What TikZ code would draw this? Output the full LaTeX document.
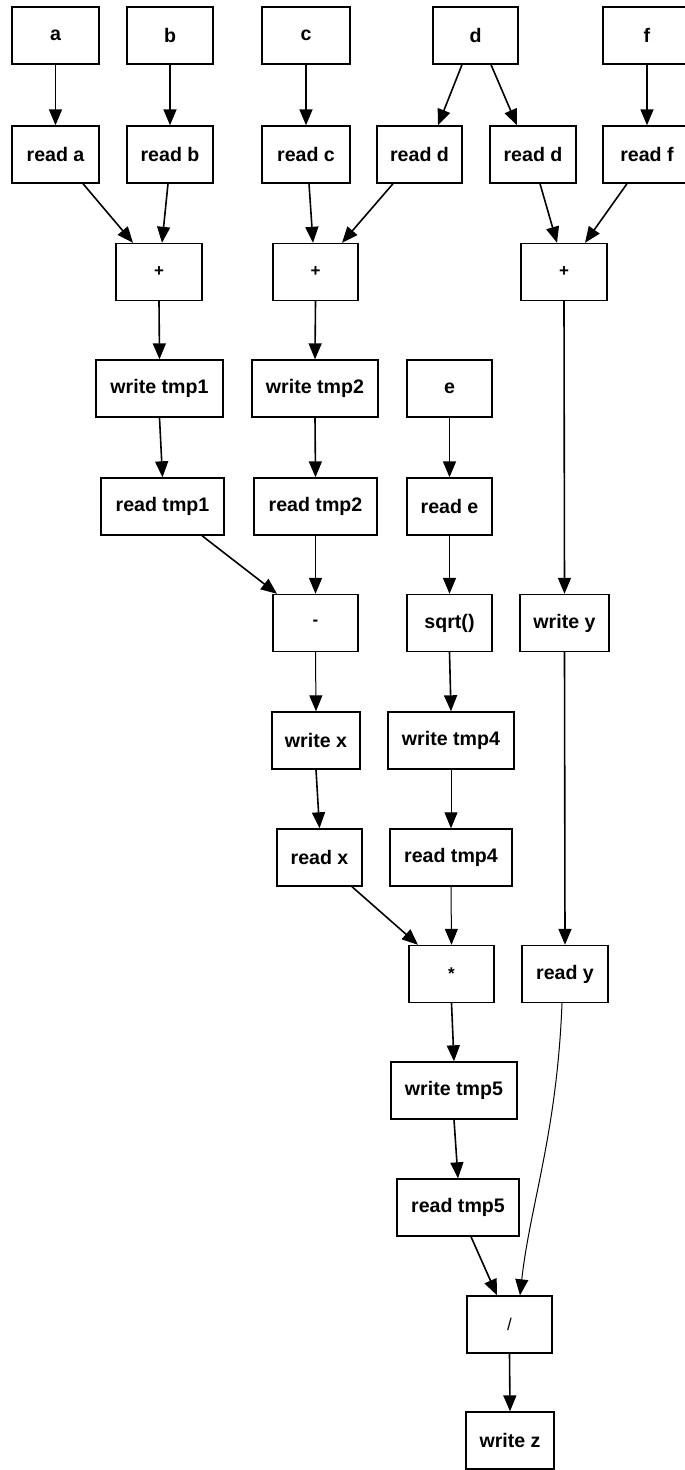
\documentclass[tikz,border=0pt]{standalone}
\usepackage{fontspec}
\setmainfont{Liberation Sans}
\usetikzlibrary{arrows.meta}
\begin{document}
\begin{tikzpicture}[x=1pt,y=-1pt,
  box/.style={draw=black, line width=1.4pt, rectangle, inner sep=0pt,
    minimum height=57pt, font=\fontsize{19.6}{22}\selectfont\bfseries},
  op/.style={box, font=\fontsize{17}{20}\selectfont\bfseries},
  edge/.style={draw=black, line width=1.6pt,
    -{Triangle[length=16pt,width=13pt]}},
  thinedge/.style={edge, line width=1pt}]
\useasboundingbox (0,0) rectangle (685,1470);
\clip (0,0) rectangle (685,1470);

% inputs
\node[box, minimum width=87pt] (a) at (55.5,35.5) {a};
\node[box, minimum width=86pt] (b) at (170,35.5) {b};
\node[box, minimum width=88pt] (c) at (306,35.5) {c};
\node[box, minimum width=85pt] (d) at (475.5,35.5) {d};
\node[box, minimum width=88pt] (f) at (647,35.5) {f};

% reads
\node[box, minimum width=87pt] (ra) at (55.5,154.5) {read a};
\node[box, minimum width=86pt] (rb) at (170,154.5) {read b};
\node[box, minimum width=88pt] (rc) at (306,154.5) {read c};
\node[box, minimum width=85pt] (rd1) at (419.5,154.5) {read d};
\node[box, minimum width=86pt] (rd2) at (533,154.5) {read d};
\node[box, minimum width=88pt] (rf) at (647,154.5) {read f};

% additions
\node[op, minimum width=86pt] (p1) at (159,272) {+};
\node[op, minimum width=85pt] (p2) at (315.5,272) {+};
\node[op, minimum width=86pt] (p3) at (564,272) {+};

\node[box, minimum width=127pt] (wt1) at (159.5,388.5) {write tmp1};
\node[box, minimum width=126pt] (wt2) at (315,388.5) {write tmp2};
\node[box, minimum width=85pt] (e) at (449.5,388.5) {e};

\node[box, minimum width=123pt] (rt1) at (162.5,506.5) {read tmp1};
\node[box, minimum width=123pt] (rt2) at (315.5,506.5) {read tmp2};
\node[box, minimum width=85pt] (re) at (449.5,506.5) {read e};

\node[op, minimum width=85pt] (mi) at (315.5,623) {-};
\node[box, minimum width=85pt] (sq) at (449.5,623) {sqrt()};
\node[box, minimum width=89pt] (wy) at (564.5,623) {write y};

\node[box, minimum width=88pt] (wx) at (316,740.5) {write x};
\node[box, minimum width=126pt] (wt4) at (451,740.5) {write tmp4};

\node[box, minimum width=85pt] (rx) at (319.5,857.5) {read x};
\node[box, minimum width=122pt] (rt4) at (451,857.5) {read tmp4};

\node[op, minimum width=85pt] (mu) at (451.5,974) {*};
\node[box, minimum width=86pt] (ry) at (565,974) {read y};

\node[box, minimum width=126pt] (wt5) at (454,1090.5) {write tmp5};
\node[box, minimum width=122pt] (rt5) at (458,1207.5) {read tmp5};
\node[op, minimum width=85pt] (dv) at (509.5,1324.5) {\mdseries /};
\node[box, minimum width=88pt] (wz) at (510,1440.5) {write z};

% data flow
\draw[edge] (a.south) -- (ra.north);
\draw[edge] (b.south) -- (rb.north);
\draw[edge] (c.south) -- (rc.north);
\draw[edge] ([xshift=-13.5pt]d.south) -- ([xshift=18.5pt]rd1.north);
\draw[edge] ([xshift=15.5pt]d.south) -- ([xshift=-16pt]rd2.north);
\draw[edge] (f.south) -- (rf.north);

\draw[edge] ([xshift=27.5pt]ra.south) -- ([xshift=-26pt]p1.north);
\draw[edge] ([xshift=-2pt]rb.south) -- ([xshift=3pt]p1.north);
\draw[edge] ([xshift=3pt]rc.south) -- ([xshift=-2.5pt]p2.north);
\draw[edge] ([xshift=-26.5pt]rd1.south) -- ([xshift=26.5pt]p2.north);
\draw[edge] ([xshift=7pt]rd2.south) -- ([xshift=-7pt]p3.north);
\draw[edge] ([xshift=-20pt]rf.south) -- ([xshift=21pt]p3.north);

\draw[edge] (p1.south) -- (wt1.north);
\draw[edge] (p2.south) -- (wt2.north);
\draw[edge] (p3.south) -- (wy.north);

\draw[edge] (wt1.south) -- (rt1.north);
\draw[edge] (wt2.south) -- (rt2.north);
\draw[edge] (e.south) -- (re.north);

\draw[edge] ([xshift=39.5pt]rt1.south) -- ([xshift=-38.5pt]mi.north);
\draw[edge] (rt2.south) -- (mi.north);
\draw[edge] (re.south) -- (sq.north);

\draw[thinedge] (mi.south) -- (wx.north);
\draw[edge] (sq.south) -- (wt4.north);

\draw[edge] (wx.south) -- (rx.north);
\draw[thinedge] (wt4.south) -- (rt4.north);

\draw[edge] ([xshift=32.5pt]rx.south) -- ([xshift=-33.5pt]mu.north);
\draw[thinedge] (rt4.south) -- (mu.north);
\draw[edge] (wy.south) -- (ry.north);

\draw[edge] (mu.south) -- (wt5.north);
\draw[edge] (wt5.south) -- (rt5.north);
\draw[edge] ([xshift=13pt]rt5.south) -- ([xshift=-12.5pt]dv.north);
\draw[thinedge] ([xshift=-3pt]ry.south) .. controls +(-5,130) and +(10,-90) .. ([xshift=10.5pt]dv.north);
\draw[edge] (dv.south) -- (wz.north);
\end{tikzpicture}
\end{document}
